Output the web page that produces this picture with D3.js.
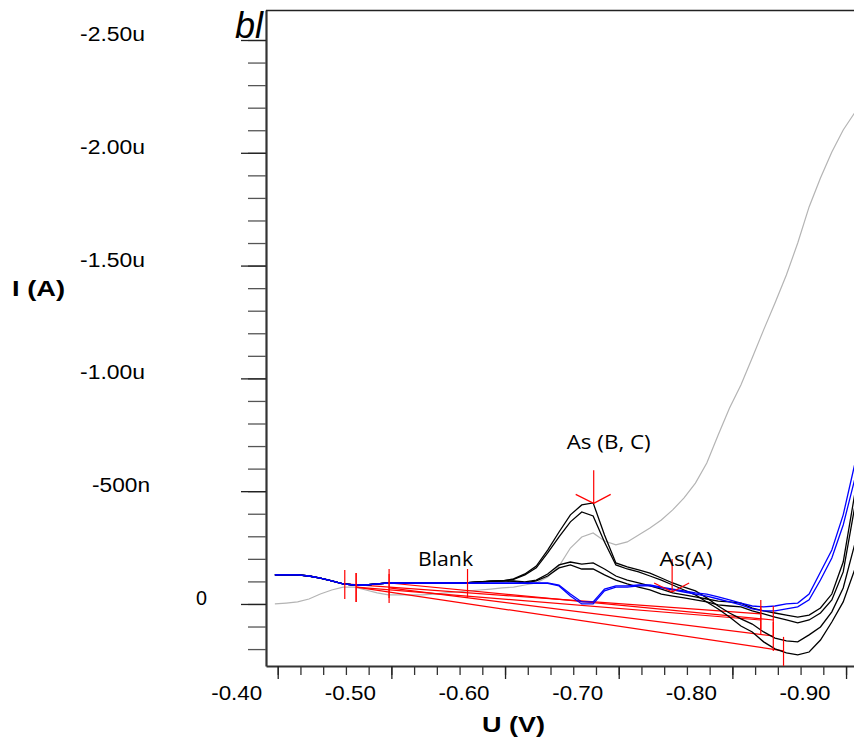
<!DOCTYPE html>
<html>
<head>
<meta charset="utf-8">
<script src="https://cdn.jsdelivr.net/npm/d3@7"></script>
<style>
  body { margin: 0; background: #fff; }
  svg { display: block; }
</style>
</head>
<body>
<svg id="chart" width="854" height="740"></svg>
<script>
// potential (V) of every recorded point
const potential = [-0.3975, -0.4075, -0.4175, -0.4275, -0.4375, -0.4475, -0.4575, -0.4675, -0.4775, -0.4875,
  -0.4975, -0.5075, -0.5175, -0.5275, -0.5375, -0.5475, -0.5575, -0.5675, -0.5775, -0.5875,
  -0.5975, -0.6075, -0.6175, -0.6275, -0.6375, -0.6475, -0.6575, -0.6675, -0.6775, -0.6875,
  -0.6975, -0.7075, -0.7175, -0.7275, -0.7375, -0.7475, -0.7575, -0.7675, -0.7775, -0.7875,
  -0.7975, -0.8075, -0.8175, -0.8275, -0.8375, -0.8475, -0.8575, -0.8675, -0.8775, -0.8875,
  -0.8975, -0.9075];

// currents in nA, the start is the same for all sample scans
const start = [-129, -129, -129, -124, -115, -102, -89, -84, -84, -89, -93, -93, -93, -93, -93, -93, -93];
const sampleB1 = start.concat([-95, -98, -102, -102, -111, -133, -168, -239, -319, -395, -439, -448, -306, -182, -164, -151, -137, -115, -93, -75, -58, -27, 9, 40, 66, 89, 124, 151, 164, 168, 137, 102, 35, -71, -262]);
const sampleB2 = start.concat([-95, -98, -100, -102, -109, -129, -160, -226, -297, -364, -408, -390, -275, -173, -155, -142, -124, -106, -84, -62, -40, -9, 22, 58, 98, 124, 168, 199, 217, 226, 213, 160, 80, -9, -151]);
const sampleC1 = start.concat([-95, -98, -100, -102, -102, -98, -106, -133, -173, -186, -177, -182, -155, -124, -106, -93, -80, -66, -49, -40, -31, -22, -13, -9, -4, 18, 31, 40, 49, 58, 49, 18, -44, -186, -483]);
const sampleC2 = start.concat([-95, -98, -100, -102, -100, -93, -102, -124, -160, -173, -155, -155, -129, -106, -89, -75, -62, -44, -35, -27, -18, -9, 4, 9, 13, 31, 44, 58, 71, 84, 71, 40, -18, -142, -426]);
const sampleA1 = start.concat([-93, -93, -93, -93, -93, -93, -93, -93, -84, -44, -9, -9, -66, -80, -80, -84, -84, -75, -66, -58, -49, -44, -31, -18, -4, 9, 13, 9, 0, -4, -44, -142, -239, -395, -616]);
const sampleA2 = start.concat([-91, -91, -91, -91, -91, -91, -91, -91, -80, -35, 0, 0, -58, -75, -75, -80, -80, -71, -62, -53, -44, -35, -22, -9, 4, 22, 31, 31, 22, 13, -18, -106, -204, -350, -550]);
const blank = [0, -4, -9, -22, -44, -62, -75, -75, -62, -49, -40, -40, -40, -40, -44, -49, -53, -58, -62, -66,
  -71, -75, -84, -93, -120, -168, -248, -297, -315, -279, -262, -275, -306, -337, -372, -417, -470, -536, -625, -749,
  -869, -971, -1091, -1215, -1334, -1458, -1600, -1760, -1888, -2004, -2101, -2177];

// baselines used for the peak evaluation
const baseFromU = [-0.459, -0.469, -0.498, -0.498, -0.469];
const baseFromI = [-89, -75, -93, -71, -75];
const baseToU = [-0.825, -0.825, -0.836, -0.836, -0.845];
const baseToI = [44, 71, 71, 142, 208];
const blankMarkU = -0.567, blankMarkI = -93;

const peakNames = ["As (B, C)", "As(A)"];
const peakU = [-0.678, -0.747];
const peakI = [-446, -53];

// axis ticks
const xTickValues = [-0.40, -0.50, -0.60, -0.70, -0.80, -0.90];
const xTickLabels = ["-0.40", "-0.50", "-0.60", "-0.70", "-0.80", "-0.90"];
const yTickValues = [-2500, -2000, -1500, -1000, -500, 0];
const yTickLabels = ["-2.50u", "-2.00u", "-1.50u", "-1.00u", "-500n", "0"];

const svg = d3.select("#chart");
const x = d3.scaleLinear().domain([-0.3897, -0.907]).range([266, 854]);
const y = d3.scaleLinear().domain([275, -2633]).range([666, 10]);

// y axis: minor ticks every 100n, major ones every 500n
const yMinor = d3.range(-2500, 201, 100);
const gy = svg.append("g").attr("transform", "translate(266,0)")
  .call(d3.axisLeft(y).tickValues(yMinor).tickSize(18).tickSizeOuter(0).tickFormat(""));
gy.select(".domain").attr("stroke", "#333").attr("stroke-width", 2.2);
gy.selectAll(".tick line").attr("stroke", "#555").attr("stroke-width", 1.3);
const gyMajor = svg.append("g").attr("transform", "translate(266,0)")
  .call(d3.axisLeft(y).tickValues(yTickValues).tickSize(25).tickFormat(""));
gyMajor.select(".domain").remove();
gyMajor.selectAll(".tick line").attr("stroke", "#222").attr("stroke-width", 1.3);

// x axis: minor ticks every 20 mV
const xMinor = d3.range(0, 26).map(i => -0.40 - 0.02 * i);
const gx = svg.append("g").attr("transform", "translate(0,666)")
  .call(d3.axisBottom(x).tickValues(xMinor).tickSize(9).tickSizeOuter(0).tickFormat(""));
gx.select(".domain").attr("stroke", "#333").attr("stroke-width", 2.2);
gx.selectAll(".tick line").attr("stroke", "#333").attr("stroke-width", 1.3);
const gxMajor = svg.append("g").attr("transform", "translate(0,666)")
  .call(d3.axisBottom(x).tickValues(xTickValues).tickSize(13).tickFormat(""));
gxMajor.select(".domain").remove();
gxMajor.selectAll(".tick line").attr("stroke", "#222").attr("stroke-width", 1.3);

// top frame
svg.append("line").attr("x1", 266).attr("x2", 854).attr("y1", 10.5).attr("y2", 10.5)
  .attr("stroke", "#222").attr("stroke-width", 1.3);

// tick labels
svg.selectAll(".xlab").data(xTickValues).join("text")
  .attr("class", "xlab")
  .attr("x", d => x(d) - 15.5)
  .attr("y", 700)
  .attr("text-anchor", "end")
  .attr("font-family", "Liberation Sans, Arial, sans-serif")
  .attr("font-size", 21)
  .attr("textLength", 51)
  .attr("lengthAdjust", "spacingAndGlyphs")
  .text((d, i) => xTickLabels[i]);

const labelRight = v => v === 0 ? 207 : v === -500 ? 150 : 145;
const labelWidth = v => v === 0 ? 11 : v === -500 ? 58 : 65;
svg.selectAll(".ylab").data(yTickValues).join("text")
  .attr("class", "ylab")
  .attr("x", d => labelRight(d))
  .attr("y", d => y(d) + 1)
  .attr("text-anchor", "end")
  .attr("font-family", "Liberation Sans, Arial, sans-serif")
  .attr("font-size", 20)
  .attr("textLength", d => labelWidth(d))
  .attr("lengthAdjust", "spacingAndGlyphs")
  .text((d, i) => yTickLabels[i]);

// axis titles
svg.append("text").attr("x", 12).attr("y", 296)
  .attr("font-family", "Liberation Sans, Arial, sans-serif").attr("font-weight", "bold")
  .attr("font-size", 22).attr("textLength", 53).attr("lengthAdjust", "spacingAndGlyphs")
  .text("I (A)");
svg.append("text").attr("x", 482).attr("y", 732)
  .attr("font-family", "Liberation Sans, Arial, sans-serif").attr("font-weight", "bold")
  .attr("font-size", 22).attr("textLength", 63).attr("lengthAdjust", "spacingAndGlyphs")
  .text("U (V)");
svg.append("text").attr("x", 263).attr("y", 38).attr("text-anchor", "end")
  .attr("font-family", "Liberation Sans, Arial, sans-serif").attr("font-style", "italic")
  .attr("font-size", 36).text("bl");

// curves
const line = d3.line().x((d, i) => x(potential[i])).y(d => y(d));

svg.append("path").datum(blank).attr("d", line)
  .attr("fill", "none").attr("stroke", "#b4b4b4").attr("stroke-width", 1.2);

// baselines
svg.selectAll(".base").data(baseFromU).join("line")
  .attr("class", "base")
  .attr("x1", d => x(d)).attr("y1", (d, i) => y(baseFromI[i]))
  .attr("x2", (d, i) => x(baseToU[i])).attr("y2", (d, i) => y(baseToI[i]))
  .attr("stroke", "#ff0000").attr("stroke-width", 1.2);

const blackScans = [sampleB1, sampleB2, sampleC1, sampleC2];
svg.selectAll(".scan").data(blackScans).join("path")
  .attr("class", "scan").attr("d", line)
  .attr("fill", "none").attr("stroke", "#000").attr("stroke-width", 1.3);

const blueScans = [sampleA1, sampleA2];
svg.selectAll(".scanA").data(blueScans).join("path")
  .attr("class", "scanA").attr("d", line)
  .attr("fill", "none").attr("stroke", "#0000ff").attr("stroke-width", 1.3);

// baseline end markers
const markU = baseFromU.concat(baseToU, [blankMarkU]);
const markI = baseFromI.concat(baseToI, [blankMarkI]);
svg.selectAll(".mark").data(markU).join("line")
  .attr("class", "mark")
  .attr("x1", d => x(d)).attr("x2", d => x(d))
  .attr("y1", (d, i) => y(markI[i]) - 14).attr("y2", (d, i) => y(markI[i]) + 15)
  .attr("stroke", "#ff0000").attr("stroke-width", 1.2);

// peak markers
peakU.forEach((u, i) => {
  const px = x(u), py = y(peakI[i]);
  const g = svg.append("g").attr("stroke", "#ff0000").attr("stroke-width", 1.2);
  g.append("line").attr("x1", px).attr("x2", px).attr("y1", py - 33).attr("y2", py);
  g.append("line").attr("x1", px - 18).attr("x2", px).attr("y1", py - 9).attr("y2", py);
  g.append("line").attr("x1", px + 17).attr("x2", px).attr("y1", py - 9).attr("y2", py);
});

// annotations
const annFont = "Open Sans, DejaVu Sans, sans-serif";
svg.append("text").attr("x", x(peakU[0]) + 15).attr("y", y(peakI[0]) - 54)
  .attr("text-anchor", "middle").attr("font-family", annFont).attr("font-size", 20)
  .attr("textLength", 84).attr("lengthAdjust", "spacingAndGlyphs").text(peakNames[0]);
svg.append("text").attr("x", x(peakU[1]) + 14).attr("y", y(peakI[1]) - 26)
  .attr("text-anchor", "middle").attr("font-family", annFont).attr("font-size", 20)
  .attr("textLength", 53).attr("lengthAdjust", "spacingAndGlyphs").text(peakNames[1]);
svg.append("text").attr("x", x(blankMarkU) - 22).attr("y", y(blankMarkI) - 17)
  .attr("text-anchor", "middle").attr("font-family", annFont).attr("font-size", 20)
  .attr("textLength", 55).attr("lengthAdjust", "spacingAndGlyphs").text("Blank");
</script>
</body>
</html>
